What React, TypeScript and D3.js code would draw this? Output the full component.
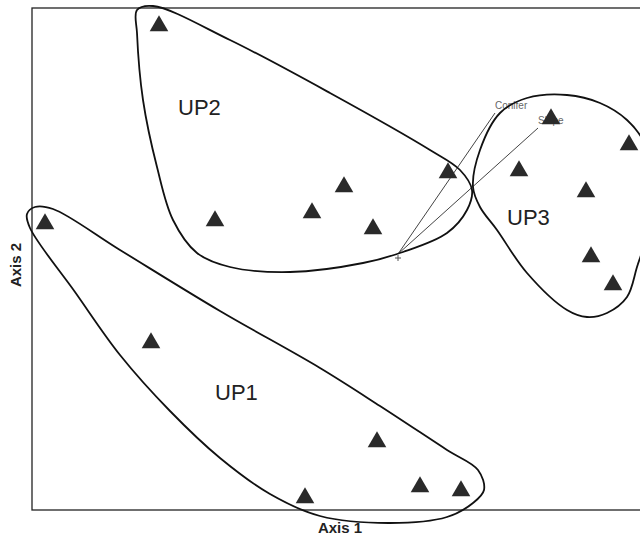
import { useEffect, useRef } from 'react';
import * as d3 from 'd3';

// Site scores (axis units, origin bottom-left of the frame)
const up1Sites: [number, number][] = [[13, 287], [119, 168], [345, 69], [388, 24], [429, 20], [273, 13]];
const up2Sites: [number, number][] = [[127, 485], [183, 290], [280, 298], [312, 324], [341, 282], [416, 338]];
const up3Sites: [number, number][] = [[519, 392], [487, 340], [554, 319], [597, 366], [559, 254], [581, 226]];

// Group outlines (hand-drawn envelopes)
const up1Outline: [number, number][] = [
  [-5, 296], [3, 303], [21, 301], [88, 260], [188, 199], [288, 142], [348, 104], [415, 60], [446, 40], [452, 20],
  [441, 7], [415, -7], [358, -13], [288, -6], [238, 16], [188, 52], [138, 99], [88, 155], [43, 218], [-2, 282]
];
const up2Outline: [number, number][] = [
  [105, 500], [121, 504], [198, 470], [298, 417], [398, 360], [428, 340], [440, 320], [435, 300], [415, 277],
  [371, 258], [331, 247], [258, 238], [198, 243], [165, 257], [141, 290], [125, 343], [111, 410], [105, 477]
];
const up3Outline: [number, number][] = [
  [441, 323], [448, 360], [468, 397], [495, 412], [535, 415], [568, 407], [595, 390], [612, 367], [616, 320],
  [613, 270], [605, 243], [595, 213], [575, 197], [555, 193], [535, 200], [495, 237], [465, 280], [448, 303]
];

const groupLabels = [
  { name: 'UP1', x: 183, y: 110 },
  { name: 'UP2', x: 146, y: 395 },
  { name: 'UP3', x: 475, y: 285 },
];

// Environmental vectors (biplot)
const vectorOrigin: [number, number] = [366, 256];
const vectors = [
  { name: 'Conifer', x: 463, y: 397 },
  { name: 'Slope', x: 506, y: 382 },
];

export default function App() {
  const ref = useRef<SVGSVGElement>(null);

  useEffect(() => {
    const svg = d3.select(ref.current);
    svg.selectAll('*').remove();

    const left = 32, top = 8, bottom = 510, right = 652;
    const x = d3.scaleLinear().domain([0, 620]).range([left, right]);
    const y = d3.scaleLinear().domain([0, 502]).range([bottom, top]);
    const font = '"Liberation Sans", Arial, sans-serif';

    svg.append('rect')
      .attr('x', left).attr('y', top)
      .attr('width', right - left + 20).attr('height', bottom - top)
      .attr('fill', 'none').attr('stroke', '#222').attr('stroke-width', 1.3);

    // vectors
    vectors.forEach(v => {
      svg.append('line')
        .attr('x1', x(vectorOrigin[0])).attr('y1', y(vectorOrigin[1]))
        .attr('x2', x(v.x)).attr('y2', y(v.y))
        .attr('stroke', '#444').attr('stroke-width', 1);
      svg.append('text')
        .attr('x', x(v.x)).attr('y', y(v.y) - 4)
        .attr('font-family', font).attr('font-size', 10).attr('fill', '#666')
        .text(v.name);
    });
    const ox = x(vectorOrigin[0]), oy = y(vectorOrigin[1]) + 4;
    svg.append('path')
      .attr('d', `M${ox - 3},${oy}H${ox + 3}M${ox},${oy - 3}V${oy + 3}`)
      .attr('stroke', '#555').attr('stroke-width', 1);

    // outlines
    const line = d3.line<[number, number]>()
      .x(d => x(d[0])).y(d => y(d[1]))
      .curve(d3.curveCatmullRomClosed.alpha(0.5));
    [up1Outline, up2Outline, up3Outline].forEach(o => {
      svg.append('path').attr('d', line(o))
        .attr('fill', 'none').attr('stroke', '#111').attr('stroke-width', 1.8);
    });

    // sites
    const tri = d3.symbol().type(d3.symbolTriangle).size(150);
    [...up1Sites, ...up2Sites, ...up3Sites].forEach(s => {
      svg.append('path').attr('d', tri())
        .attr('transform', `translate(${x(s[0])},${y(s[1]) + 1})`)
        .attr('fill', '#2a2a2a');
    });

    groupLabels.forEach(g => {
      svg.append('text')
        .attr('x', x(g.x)).attr('y', y(g.y))
        .attr('font-family', font).attr('font-size', 22).attr('fill', '#222')
        .text(g.name);
    });

    svg.append('text')
      .attr('x', 340).attr('y', 533).attr('text-anchor', 'middle')
      .attr('font-family', font).attr('font-size', 15).attr('font-weight', 'bold').attr('fill', '#222')
      .text('Axis 1');
    svg.append('text')
      .attr('transform', 'translate(21,265) rotate(-90)').attr('text-anchor', 'middle')
      .attr('font-family', font).attr('font-size', 15).attr('font-weight', 'bold').attr('fill', '#222')
      .text('Axis 2');
  }, []);

  return (
    <svg ref={ref} width={640} height={537}
      style={{ position: 'absolute', left: 0, top: 0, background: '#fff' }} />
  );
}
